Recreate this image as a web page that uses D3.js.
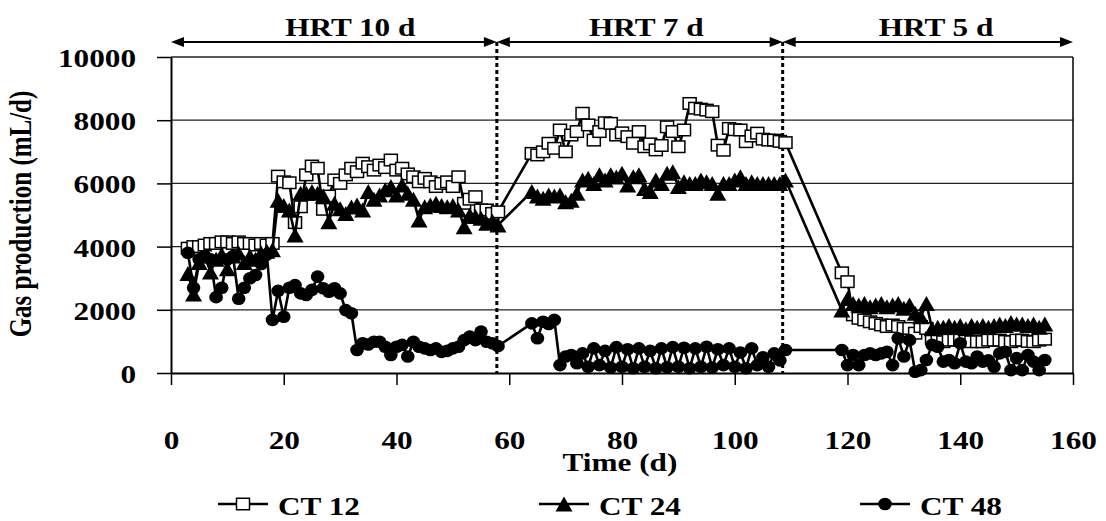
<!DOCTYPE html>
<html>
<head>
<meta charset="utf-8">
<script src="https://cdn.jsdelivr.net/npm/d3@7"></script>
<style>
  html, body { margin: 0; padding: 0; background: #fff; }
  svg { display: block; font-family: "Liberation Serif", "Times New Roman", serif; font-weight: bold; }
</style>
</head>
<body>
<svg id="chart" width="1106" height="521"></svg>
<script>
// ---- Data: daily gas production (mL/d) for three reactors ----
const daysHrt10 = [3,4,5,6,7,8,9,10,11,12,13,14,15,16,17,18,19,20,21,22,23,24,25,26,27,28,29,30,
  31,32,33,34,35,36,37,38,39,40,41,42,43,44,45,46,47,48,49,50,51,52,53,54,55,56,57,58];
const daysHrt7 = [64,65,66,67,68,69,70,71,72,73,74,75,76,77,78,79,80,81,82,83,84,85,86,87,88,89,
  90,91,92,93,94,95,96,97,98,99,100,101,102,103,104,105,106,107,108,109];
const daysHrt5 = [119,120,121,122,123,124,125,126,127,128,129,130,131,132,133,134,135,136,137,138,
  139,140,141,142,143,144,145,146,147,148,149,150,151,152,153,154,155];

const ct12Hrt10 = [3950,4000,4000,4050,4100,4100,4150,4150,4100,4150,4100,4100,4050,4100,4050,4100,
  6230,6050,6020,4760,5260,6270,6550,6480,
  5180,5600,6110,6000,6270,6480,6370,6640,6530,6420,6580,6500,6740,6420,6480,6300,6210,6050,6160,6050,
  5900,6000,6050,5900,6210,5370,5500,5580,5160,5160,5050,5100];
const ct12Hrt7 = [6950,6900,7000,7270,7110,7690,7000,7530,7640,8220,7850,7370,7640,7920,7900,7530,7600,
  7480,7270,7640,7160,7250,7060,7200,7790,7640,7160,7690,8530,8380,8350,8320,8270,7210,7050,7740,7700,
  7690,7320,7500,7590,7400,7370,7370,7330,7290];
const ct12Hrt5 = [3170,2890,1840,1730,1680,1620,1570,1520,1470,1520,1470,1410,1410,1260,1470,1410,1100,
  1040,990,1040,1040,1040,1040,990,990,990,1040,1040,1040,1000,990,1040,1040,1000,990,1040,1070];

const ct24Hrt10 = [3150,2500,3500,3700,3200,3600,3750,3300,3700,3800,3500,3700,3600,3800,3850,3900,
  5470,5300,5160,4370,5690,5690,5740,5690,
  5600,4790,5370,5200,5050,5250,5320,5160,5740,5500,5630,5800,5900,5630,5950,5690,5500,4840,5260,5320,
  5370,5300,5260,5300,5160,4630,5000,4950,4900,4740,4800,4680];
const ct24Hrt7 = [5740,5600,5530,5630,5600,5630,5420,5470,5690,6110,6160,6000,6270,6110,6270,6200,6320,
  5950,6210,6270,5840,5740,6110,6000,6320,6370,5900,6050,6000,6000,6110,6050,6000,5690,6000,6000,6110,
  6210,6000,6050,6000,6000,6000,6000,6000,6110];
const ct24Hrt5 = [1990,2360,2200,2150,2200,2100,2150,2200,2100,2150,2200,2050,2150,1890,1780,2200,
  1400,1450,1450,1500,1450,1500,1400,1500,1450,1500,1450,1500,1550,1500,1600,1550,1550,1500,1550,1450,1550];

const ct48Hrt10 = [3800,2700,3600,3700,3600,2400,2700,3600,3700,2350,2700,3000,3100,3450,3750,
  1680,2600,1780,2700,2780,2520,2470,2630,3050,2680,2570,2680,2520,1990,1890,
  730,940,900,990,990,830,570,830,890,520,990,830,780,730,780,670,700,780,830,1040,1150,1040,1310,990,940,850];
const ct48Hrt7 = [1570,1100,1620,1550,1680,250,520,570,310,620,
  200,780,250,700,170,820,200,750,150,780,200,700,150,780,180,820,200,800,150,780,
  200,830,170,750,250,780,200,650,150,780,250,500,200,620,400,730];
const ct48Hrt5 = [730,250,570,250,570,620,570,620,670,250,1100,520,1040,40,90,410,890,830,360,410,
  310,940,360,310,520,360,400,200,620,670,90,470,90,570,360,90,410];

const seriesNames = ["CT 12", "CT 24", "CT 48"];
const yTicks = [0, 2000, 4000, 6000, 8000, 10000];
const xTicks = [0, 20, 40, 60, 80, 100, 120, 140, 160];
const hrtLabels = ["HRT 10 d", "HRT 7 d", "HRT 5 d"];
const hrtBounds = [0, 57.8, 108.5, 160];      // days where the HRT periods change
const hrtLabelDays = [31.8, 84.3, 135.7];

// ---- Layout ----
const svg = d3.select("#chart");
const x = d3.scaleLinear().domain([0, 160]).range([171, 1073]);
const y = d3.scaleLinear().domain([0, 10000]).range([373, 57]);
const SX = 1.25;          // horizontal stretch of the lettering
const FS = 25;

function label(g, px, py, str, anchor) {
  return g.append("text")
    .attr("transform", `translate(${px},${py}) scale(${SX},1)`)
    .attr("text-anchor", anchor)
    .attr("font-size", FS)
    .attr("fill", "#000")
    .text(str);
}

// gridlines
svg.append("g").selectAll("line").data(yTicks.filter(d => d > 0)).join("line")
  .attr("x1", x(0)).attr("x2", x(160))
  .attr("y1", d => y(d)).attr("y2", d => y(d))
  .attr("stroke", "#222").attr("stroke-width", 1.3);

// right border
svg.append("line").attr("x1", x(160)).attr("x2", x(160)).attr("y1", y(10000)).attr("y2", y(0))
  .attr("stroke", "#000").attr("stroke-width", 1.5);

// y axis
const gy = svg.append("g").attr("transform", `translate(${x(0)},0)`)
  .call(d3.axisLeft(y).tickValues(yTicks).tickSize(14).tickSizeOuter(0).tickFormat(d3.format("d")));
gy.attr("font-family", null).attr("font-size", null);
gy.select(".domain").attr("stroke", "#000").attr("stroke-width", 2);
gy.selectAll(".tick line").attr("stroke", "#000").attr("stroke-width", 1.5);
gy.selectAll(".tick text").attr("x", null).attr("dy", null)
  .attr("transform", `translate(-35,9.5) scale(${SX},1)`)
  .attr("text-anchor", "end").attr("font-size", FS).attr("fill", "#000");

// x axis
const gx = svg.append("g").attr("transform", `translate(0,${y(0)})`)
  .call(d3.axisBottom(x).tickValues(xTicks).tickSize(12).tickSizeOuter(0));
gx.attr("font-family", null).attr("font-size", null);
gx.select(".domain").attr("stroke", "#000").attr("stroke-width", 2);
gx.selectAll(".tick line").attr("stroke", "#000").attr("stroke-width", 1.5);
gx.selectAll(".tick text").attr("y", null).attr("dy", null)
  .attr("transform", `translate(0,76) scale(${SX},1)`)
  .attr("text-anchor", "middle").attr("font-size", FS).attr("fill", "#000");

// axis titles
label(svg, 620, 471, "Time (d)", "middle");
svg.append("text")
  .attr("transform", `translate(31,214) scale(${SX},1) rotate(-90)`)
  .attr("text-anchor", "middle").attr("font-size", FS).attr("fill", "#000")
  .text("Gas production (mL/d)");

// HRT period separators
svg.append("g").selectAll("line").data(hrtBounds.slice(1, 3)).join("line")
  .attr("x1", d => x(d)).attr("x2", d => x(d))
  .attr("y1", 42).attr("y2", y(0))
  .attr("stroke", "#000").attr("stroke-width", 3).attr("stroke-dasharray", "4,3");

// double-headed arrows for HRT periods
const arrowY = 42, headL = 13, headH = 5;
const ga = svg.append("g");
for (let i = 0; i < 3; i++) {
  const a = x(hrtBounds[i]), b = x(hrtBounds[i + 1]);
  ga.append("line").attr("x1", a + 4).attr("x2", b - 4).attr("y1", arrowY).attr("y2", arrowY)
    .attr("stroke", "#000").attr("stroke-width", 2);
  ga.append("path").attr("d", `M${a},${arrowY}L${a + headL},${arrowY - headH}L${a + headL},${arrowY + headH}Z`).attr("fill", "#000");
  ga.append("path").attr("d", `M${b},${arrowY}L${b - headL},${arrowY - headH}L${b - headL},${arrowY + headH}Z`).attr("fill", "#000");
  label(ga, x(hrtLabelDays[i]), 36, hrtLabels[i], "middle");
}

// ---- Series ----
const days = daysHrt10.concat(daysHrt7, daysHrt5);
const seriesValues = [
  ct12Hrt10.concat(ct12Hrt7, ct12Hrt5),
  ct24Hrt10.concat(ct24Hrt7, ct24Hrt5),
  ct48Hrt10.concat(ct48Hrt7, ct48Hrt5)
];

function drawMarker(g, kind, cx, cy) {
  if (kind === 0) {
    g.append("rect").attr("x", cx - 6.5).attr("y", cy - 5.75).attr("width", 13).attr("height", 11.5)
      .attr("fill", "#fff").attr("stroke", "#000").attr("stroke-width", 1.5);
  } else if (kind === 1) {
    const w = 8.5, h = 7.5;
    g.append("path").attr("d", `M${cx},${cy - h}L${cx + w},${cy + h}L${cx - w},${cy + h}Z`)
      .attr("fill", "#000");
  } else {
    g.append("ellipse").attr("cx", cx).attr("cy", cy).attr("rx", 6.8).attr("ry", 6.3)
      .attr("fill", "#000");
  }
}

const line = d3.line().x(d => x(d.day)).y(d => y(d.v));
seriesValues.forEach((vals, k) => {
  const pts = days.map((day, i) => ({ day, v: vals[i] }));
  const g = svg.append("g");
  g.append("path").datum(pts).attr("d", line)
    .attr("fill", "none").attr("stroke", "#000").attr("stroke-width", 2.6).attr("stroke-linejoin", "round");
  pts.forEach(p => drawMarker(g, k, x(p.day), y(p.v)));
});

// ---- Legend ----
const legendX = [243, 564, 885];
const gl = svg.append("g");
seriesNames.forEach((name, k) => {
  const cx = legendX[k], cy = 504;
  gl.append("line").attr("x1", cx - 25).attr("x2", cx + 25).attr("y1", cy).attr("y2", cy)
    .attr("stroke", "#000").attr("stroke-width", 2.6);
  drawMarker(gl, k, cx, cy);
  label(gl, cx + 35, 515, name, "start");
});
</script>
</body>
</html>
